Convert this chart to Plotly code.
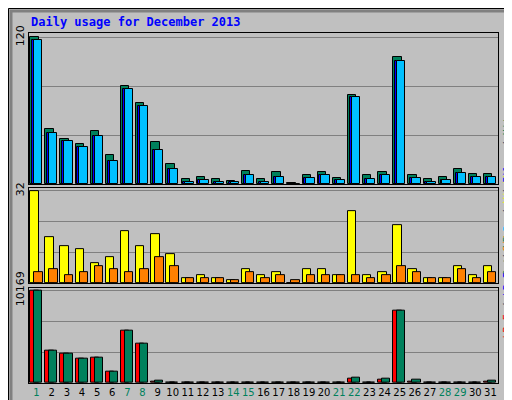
import plotly.graph_objects as go
from plotly.subplots import make_subplots

days = list(range(1, 32))
weekend = [1, 7, 8, 14, 15, 21, 22, 28, 29]

hits = [120, 45, 37, 33, 43, 24, 80, 66, 34, 16, 4, 6, 4, 2.5, 11, 4, 10, 1, 7, 10, 5, 73, 7, 10, 104, 7, 4, 6, 12, 8, 8]
files = [118, 42, 35, 30, 39, 19, 78, 64, 28, 12, 2, 3, 2, 1.5, 7, 2, 6, 0, 5, 7, 3, 71, 4, 7, 101, 5, 2, 3, 9, 6, 6]
pages = [118, 42, 35, 30, 39, 19, 78, 64, 28, 12, 2, 3, 2, 1.5, 7, 2, 6, 0, 5, 7, 3, 71, 4, 7, 101, 5, 2, 3, 9, 6, 6]

visits = [32, 16, 13, 12, 7, 9, 18, 13, 17, 10, 2, 3, 2, 1, 5, 3, 4, 0, 5, 5, 3, 25, 3, 4, 20, 5, 2, 2, 6, 3, 6]
sites = [4, 5, 3, 4, 6, 5, 4, 5, 9, 6, 2, 2, 2, 1, 4, 2, 3, 1, 3, 3, 3, 3, 2, 3, 6, 4, 2, 2, 5, 2, 4]

kb_f = [10169, 3576, 3240, 2682, 2794, 1229, 5700, 4358, 120, 20, 20, 20, 20, 20, 20, 20, 20, 20, 20, 20, 20, 480, 20, 380, 7934, 200, 20, 20, 20, 20, 120]
kb_out = [10169, 3576, 3240, 2682, 2794, 1229, 5700, 4358, 220, 40, 40, 40, 40, 40, 40, 40, 40, 40, 40, 40, 40, 560, 40, 450, 7934, 330, 40, 40, 40, 40, 220]

GREEN = "#00805C"
BG = "#C0C0C0"

fig = make_subplots(rows=3, cols=1, shared_xaxes=True, vertical_spacing=0.012,
                    row_heights=[152, 96, 96])

def bars(y, color, offset, width, row):
    fig.add_trace(go.Bar(x=days, y=y, offset=offset, width=width,
                         marker=dict(color=color, line=dict(color="black", width=1))),
                  row=row, col=1)

bars(hits, GREEN, -0.42, 0.55, 1)
bars(files, "#0000FF", -0.3, 0.55, 1)
bars(pages, "#00C0FF", -0.17, 0.55, 1)
bars(visits, "#FFFF00", -0.42, 0.55, 2)
bars(sites, "#FF8000", -0.15, 0.55, 2)
bars(kb_f, "#FF0000", -0.42, 0.55, 3)
bars(kb_out, GREEN, -0.17, 0.55, 3)

for r, top in [(1, 120), (2, 32), (3, 10169)]:
    fig.update_yaxes(row=r, col=1, range=[0, top * 1.03], tickvals=[top / 3, 2 * top / 3, top],
                     ticktext=["", "", str(top)], tickangle=-90, showgrid=True, automargin=False,
                     gridcolor="#808080", gridwidth=1, zeroline=False, showline=True,
                     linecolor="black", mirror=True, linewidth=1, ticks="",
                     tickfont=dict(family="DejaVu Sans", size=11, color="black"))
ticktext = [f"<span style='color:{GREEN}'>{d}</span>" if d in weekend else str(d) for d in days]
fig.update_xaxes(range=[0.5, 31.5], showline=True, linecolor="black", mirror=True,
                 linewidth=1, showgrid=False, ticks="", tickvals=days, ticktext=ticktext,
                 tickangle=0, automargin=False,
                 tickfont=dict(family="DejaVu Sans", size=10, color="black"))

fig.add_annotation(x=0, y=1.0, xref="paper", yref="paper", xanchor="left", yanchor="bottom",
                   yshift=2, showarrow=False,
                   text="<b>Daily usage for December 2013</b>",
                   font=dict(family="DejaVu Sans Mono", size=12, color="#0000FF"))

mono = dict(family="DejaVu Sans Mono", size=10)
legends = [
    (0.78, f"<span style='color:#00C0FF'>Pages</span> / <span style='color:#0000FF'>Files</span> / <span style='color:{GREEN}'>Hits</span>"),
    (0.46, f"<span style='color:{GREEN}'>Out</span> <span style='color:#FF8000'>Sites</span> / <span style='color:#FFFF00'>Visits</span>"),
    (0.12, f"<span style='color:#FF0000'>kB F</span> / <span style='color:#0000FF'>kB In</span> / <span style='color:{GREEN}'>kB</span>"),
]
for yy, txt in legends:
    fig.add_annotation(x=1.0, y=yy, xref="paper", yref="paper", xanchor="left", xshift=1,
                       showarrow=False, textangle=-90, font=mono, text=txt)

W, H, L, R, T, B = 512, 400, 21, 22, 25, 25
pw, ph = W - L - R, H - T - B
def px(x): return (x - L) / pw
def py(y): return 1 - (y - T) / ph
fig.add_shape(type="rect", xref="paper", yref="paper", x0=px(0.5), x1=px(511.5), y0=py(399.5), y1=py(0.5),
              line=dict(color="black", width=1), layer="below")
fig.add_shape(type="rect", xref="paper", yref="paper", x0=px(3), x1=px(508), y0=py(397), y1=py(3),
              line=dict(color="#808080", width=3), layer="below")

fig.update_layout(width=W, height=H, margin=dict(l=L, r=R, t=T, b=B),
                  paper_bgcolor=BG, plot_bgcolor=BG, barmode="overlay",
                  showlegend=False, bargap=0)
fig.write_html("out.html")
